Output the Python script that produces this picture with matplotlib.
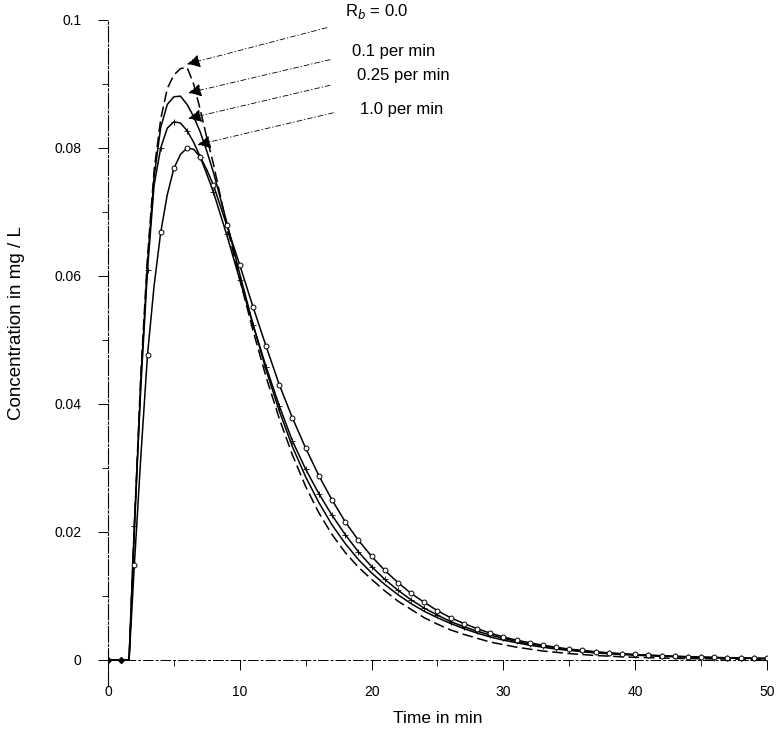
import numpy as np
import matplotlib
matplotlib.use("Agg")
import matplotlib.pyplot as plt
from matplotlib.ticker import MultipleLocator, FormatStrFormatter

plt.rcParams['font.family'] = ['Liberation Sans', 'DejaVu Sans']

# time grid (min)
time = [0, 1, 1.6, 2, 2.5, 3, 3.5, 4, 4.5, 5, 5.5, 6, 6.5, 7, 7.5, 8] + list(range(9, 51))

# concentration (mg/L), one list per decay rate
conc_r0 = [0, 0, 0, 0.021, 0.045, 0.063, 0.0765, 0.0845, 0.0893, 0.0914, 0.0924, 0.0926,
           0.0900, 0.0860, 0.0816, 0.0775,
           0.0680, 0.0595, 0.0515, 0.0442, 0.0377, 0.0320, 0.0271, 0.0230, 0.0196, 0.0168,
           0.0145, 0.0126, 0.0108, 0.0092, 0.0079, 0.0066, 0.0056, 0.0047, 0.0040, 0.0034,
           0.0028, 0.0024, 0.0020, 0.0017, 0.0014, 0.0012, 0.0010, 0.00085, 0.0007, 0.0006,
           0.0005, 0.00042, 0.00036, 0.0003, 0.00026, 0.00022, 0.0002, 0.00017, 0.00015,
           0.00013, 0.00011, 0.0001]
conc_r01 = [0, 0, 0, 0.020, 0.044, 0.062, 0.0755, 0.0832, 0.0868, 0.0880, 0.0881, 0.0868,
            0.0849, 0.0825, 0.0795, 0.0762,
            0.0685, 0.0603, 0.0525, 0.0453, 0.0389, 0.0333, 0.0286, 0.0246, 0.0211, 0.0182,
            0.0157, 0.0136, 0.0118, 0.0102, 0.0088, 0.0076, 0.0066, 0.0057, 0.0049, 0.0042,
            0.0036, 0.0031, 0.0027, 0.0023, 0.0020, 0.0017, 0.0015, 0.0013, 0.0011, 0.00097,
            0.00085, 0.00075, 0.00066, 0.00058, 0.00051, 0.00045, 0.0004, 0.00035, 0.00031,
            0.00027, 0.00024, 0.00021]
conc_r025 = [0, 0, 0, 0.021, 0.043, 0.061, 0.0742, 0.0800, 0.0831, 0.0841, 0.0839, 0.0827,
             0.0809, 0.0786, 0.0759, 0.0731,
             0.0665, 0.0594, 0.0524, 0.0458, 0.0397, 0.0342, 0.0298, 0.0260, 0.0226, 0.0196,
             0.0169, 0.0146, 0.0126, 0.0109, 0.0094, 0.0081, 0.0070, 0.0060, 0.0052, 0.0045,
             0.0039, 0.0034, 0.0029, 0.0025, 0.0022, 0.0019, 0.0016, 0.0014, 0.0012, 0.0011,
             0.00095, 0.00083, 0.00073, 0.00064, 0.00056, 0.00049, 0.00043, 0.00038, 0.00034,
             0.0003, 0.00026, 0.00023]
conc_r1 = [0, 0, 0, 0.0148, 0.032, 0.0477, 0.0585, 0.0668, 0.0727, 0.0768, 0.0790, 0.0800,
           0.0798, 0.0786, 0.0766, 0.0742,
           0.0680, 0.0617, 0.0552, 0.0490, 0.0430, 0.0378, 0.0331, 0.0288, 0.0250, 0.0216,
           0.0187, 0.0162, 0.0140, 0.0121, 0.0104, 0.0090, 0.0077, 0.0066, 0.0057, 0.0049,
           0.0042, 0.0036, 0.0031, 0.0027, 0.0023, 0.0020, 0.0017, 0.0015, 0.0013, 0.0011,
           0.00097, 0.00086, 0.00076, 0.00067, 0.00059, 0.00052, 0.00046, 0.0004, 0.00035,
           0.00031, 0.00027, 0.00024]

labels = ["R$_b$ = 0.0", "0.1 per min", "0.25 per min", "1.0 per min"]

fig = plt.figure(figsize=(7.79, 7.32), dpi=100)
ax = fig.add_axes([0.1386, 0.0634, 0.846, 0.9093])

whole = [i for i, x in enumerate(time) if float(x).is_integer()]
after_start = [i for i in whole if time[i] >= 2]

ax.plot(time, conc_r0, color='k', lw=1.1, ls=(0, (7, 3)))
ax.plot(time, conc_r01, color='k', lw=1.1)
ax.plot(time, conc_r025, color='k', lw=1.1, marker='+', ms=5, mew=0.6,
        markevery=after_start)
ax.plot(time, conc_r1, color='k', lw=1.1, marker='o', ms=3.5, mew=0.7, mfc='white',
        markevery=after_start)
ax.plot(time[:2], conc_r1[:2], 'kD', ms=3)

# annotation arrows from the labels to each peak
curves = [conc_r0, conc_r01, conc_r025, conc_r1]
tip_t = [6.0, 6.1, 6.1, 6.8]
start_t = [16.6, 16.85, 16.85, 17.1]
start_c = [0.0988, 0.0938, 0.0898, 0.0855]
text_t = [18.0, 18.5, 18.9, 19.1]
text_c = [0.1014, 0.0951, 0.0914, 0.0860]
for curve, lab, tt, st, sc, xt, yt in zip(curves, labels, tip_t, start_t, start_c, text_t, text_c):
    ax.annotate("", xy=(tt, max(curve) + 0.0005), xytext=(st, sc),
                arrowprops=dict(arrowstyle='-|>', color='k', lw=0.6,
                                ls=(0, (6, 3, 1, 3)), mutation_scale=20,
                                shrinkA=0, shrinkB=0),
                annotation_clip=False)
    ax.text(xt, yt, lab, ha='left', va='center', fontsize=12, clip_on=False)

ax.set_xlim(0, 50)
ax.set_ylim(-0.004, 0.1)
ax.spines['top'].set_visible(False)
ax.spines['right'].set_visible(False)
ax.spines['bottom'].set_position(('data', 0))
ax.spines['bottom'].set_linestyle((0, (10, 3, 2, 3)))
ax.spines['left'].set_linestyle((0, (14, 2, 2, 2)))
ax.spines['bottom'].set_linewidth(0.7)
ax.spines['left'].set_linewidth(0.8)

ax.xaxis.set_major_locator(MultipleLocator(10))
ax.xaxis.set_minor_locator(MultipleLocator(5))
ax.yaxis.set_major_locator(MultipleLocator(0.02))
ax.yaxis.set_minor_locator(MultipleLocator(0.01))
ax.yaxis.set_major_formatter(FormatStrFormatter('%g'))
ax.set_yticks([0, 0.02, 0.04, 0.06, 0.08, 0.1])
ax.tick_params(axis='both', which='major', direction='out', length=7, width=0.7,
               labelsize=10)
ax.tick_params(axis='both', which='minor', direction='out', length=4, width=0.6)
ax.tick_params(axis='x', which='major', pad=11)
ax.tick_params(axis='y', which='major', pad=12)

ax.set_xlabel("Time in min", fontsize=12.5)
ax.set_ylabel("Concentration in mg / L", fontsize=13.5)
ax.xaxis.set_label_coords(0.5, -0.038)
ax.yaxis.set_label_coords(-0.126, 0.545)

fig.savefig("out.png", dpi=100)
